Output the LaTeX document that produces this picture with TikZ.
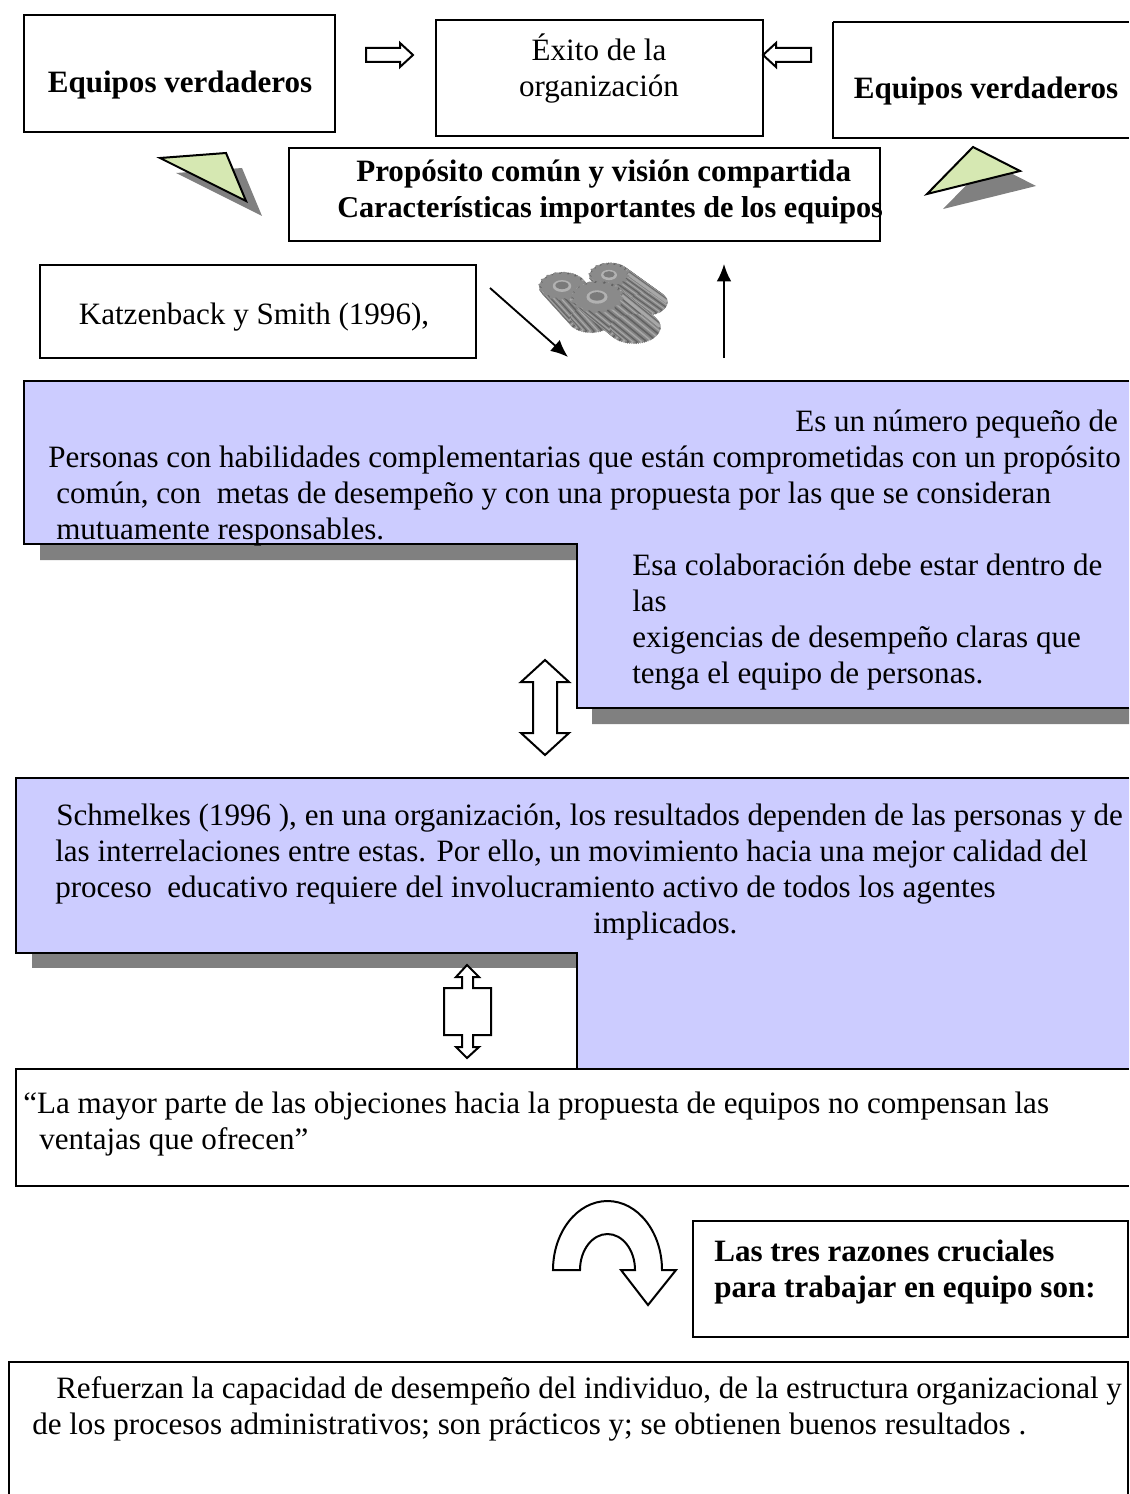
\documentclass[tikz,border=0pt]{standalone}
\usepackage{fontspec}
\setmainfont{Liberation Serif}
\usetikzlibrary{arrows.meta}
\definecolor{lila}{RGB}{204,204,255}
\definecolor{verde}{RGB}{214,232,178}
\definecolor{sombra}{RGB}{128,128,128}
\tikzset{
	caja/.style={draw=black,line width=1.5pt},
	caja lila/.style={caja,fill=lila},
	sombra/.style={fill=sombra,draw=none},
	texto/.style={inner sep=0pt,anchor=base west,align=left,font=\fontsize{23.3}{27}\selectfont},
	centrado/.style={inner sep=0pt,align=center,font=\fontsize{23.3}{27}\selectfont},
	negrita/.style={font=\fontsize{23.3}{27}\selectfont\bfseries},
	bloque/.style={draw=black,line width=1.5pt,fill=white,line join=miter},
	cuña/.style={draw=black,line width=1.5pt,fill=verde},
	flecha/.style={line width=1.4pt,-{Latex[length=13pt,width=11pt]}},
}
% rueda dentada: centro x, centro y, radio, fuga x, fuga y
\newcommand{\rueda}[5]{
	\foreach \ang [evaluate=\ang as \tono using {48+14*sin(18*\ang)}] in {0,5,...,355}
		\draw[line width=2.2pt,color=black!\tono] ({#1+#3*cos(\ang)},{#2+0.6*#3*sin(\ang)}) -- ++(#4,#5);
	\fill[color=black!46] plot[samples=241,domain=0:360] ({#1+(#3+1.8*sin(16*\x))*cos(\x)},{#2+0.6*(#3+1.8*sin(16*\x))*sin(\x)}) -- cycle;
	\fill[color=black!30] (#1,#2) ellipse ({0.42*#3} and {0.27*#3});
	\fill[color=black!52] (#1,#2-0.6) ellipse ({0.3*#3} and {0.17*#3});
}
\begin{document}
\begin{tikzpicture}[x=0.75pt,y=-0.75pt]
	\useasboundingbox (0,0) rectangle (1129,1494);

	% cajas de arriba
	\draw[caja] (24,15) rectangle (335,132);
	\draw[caja] (436,20) rectangle (763,136);
	\draw[caja] (833,22) -- (1129,22) (833,22) -- (833,138) -- (1129,138);
	\draw[caja] (289,148) rectangle (880,241);
	\draw[caja] (40,265) rectangle (476,358);

	\node[centrado,negrita] (equipos1) at (180,85) {Equipos verdaderos};
	\node[centrado] (exito) at (599,68.5) {Éxito de la\\organización};
	\node[centrado,negrita] (equipos2) at (986,91) {Equipos verdaderos};
	\node[texto,negrita] (proposito) at (356,182) {Propósito común y visión compartida};
	\node[texto,font=\fontsize{22.67}{27}\selectfont\bfseries] (caract) at (337,218) {Características importantes de los equipos};
	\node[centrado] (katz) at (254,317) {Katzenback y Smith (1996),};

	% flechas huecas de arriba
	\draw[bloque] (366,48) -- (400,48) -- (400,43) -- (413,55) -- (400,67) -- (400,62) -- (366,62) -- cycle;
	\draw[bloque] (811,48) -- (776,48) -- (776,43) -- (763,55) -- (776,67) -- (776,62) -- (811,62) -- cycle;

	% cuñas verdes
	\fill[sombra] (176,173) -- (242,168) -- (262,216) -- cycle;
	\draw[cuña] (160,158) -- (226,153) -- (246,201) -- cycle;
	\fill[sombra] (943,209) -- (989,162) -- (1036,186) -- cycle;
	\draw[cuña] (927,194) -- (973,147) -- (1020,171) -- cycle;

	% engranajes
	\rueda{609}{275}{19}{39}{28}
	\rueda{562}{286}{22}{30}{33}
	\rueda{597}{297}{25}{38}{31}

	% flechas finas
	\coordinate (diagA) at (490,288);
	\coordinate (diagB) at (568,357);
	\coordinate (vertA) at (724,358);
	\coordinate (vertB) at (724,264);
	\draw[flecha] (diagA) -- (diagB);
	\draw[flecha] (vertA) -- (vertB);

	% primer bloque lila
	\fill[sombra] (40,544) -- (40,560) -- (592,560) -- (592,724) -- (1129,724) -- (1129,708) -- (577,708) -- (577,544) -- cycle;
	\draw[caja lila] (1129,381) -- (24,381) -- (24,544) -- (577,544) -- (577,708) -- (1129,708);
	\node[texto] (numero) at (795,431) {Es un número pequeño de};
	\node[texto] (personas) at (48,467) {Personas con habilidades complementarias que están comprometidas con un propósito};
	\node[texto] (comun) at (56,503) {común, con\ \ metas de desempeño y con una propuesta por las que se consideran};
	\node[texto] (mutua) at (56,539) {mutuamente responsables.};
	\node[texto] (esa) at (632,575) {Esa colaboración debe estar dentro de};
	\node[texto] (las) at (632,611) {las};
	\node[texto] (exig) at (632,647) {exigencias de desempeño claras que};
	\node[texto] (tenga) at (632,683) {tenga el equipo de personas.};

	% flecha doble
	\draw[bloque] (545,660) -- (569,682) -- (557,682) -- (557,733) -- (569,733) -- (545,755) -- (521,733) -- (533,733) -- (533,682) -- (521,682) -- cycle;

	% segundo bloque lila
	\fill[sombra] (32,953) -- (32,968) -- (577,968) -- (577,953) -- cycle;
	\draw[caja lila] (1129,778) -- (16,778) -- (16,953) -- (577,953) -- (577,1069) -- (1129,1069);
	\node[texto] (schm) at (56,825) {Schmelkes (1996 ), en una organización, los resultados dependen de las personas y de};
	\node[texto] (inter) at (55,861) {las interrelaciones entre estas. Por ello, un movimiento hacia una mejor calidad del};
	\node[texto] (proceso) at (55,897) {proceso\ \ educativo requiere del involucramiento activo de todos los agentes};
	\node[texto] (impl) at (593,933) {implicados.};

	% flecha doble corta
	\draw[bloque] (467,965) -- (479,977) -- (473,977) -- (473,988) -- (491,988) -- (491,1035) -- (473,1035) -- (473,1047) -- (479,1047) -- (467,1058) -- (456,1047) -- (462,1047) -- (462,1035) -- (444,1035) -- (444,988) -- (462,988) -- (462,977) -- (456,977) -- cycle;

	% caja de objeciones
	\draw[caja] (1129,1069) -- (16,1069) -- (16,1186) -- (1129,1186);
	\node[texto] (mayor) at (23,1113) {“La mayor parte de las objeciones hacia la propuesta de equipos no compensan las};
	\node[texto] (ventajas) at (39,1149) {ventajas que ofrecen”};

	% flecha curva
	\draw[bloque] (553,1270) arc[start angle=180,end angle=360,x radius=54.5,y radius=69] -- (676,1270) -- (648,1305) -- (621,1270) -- (635,1270) arc[start angle=0,end angle=-180,x radius=27.5,y radius=36] -- cycle;

	\draw[caja] (693,1221) rectangle (1128,1337);
	\node[texto,negrita] (tres) at (714,1261) {Las tres razones cruciales};
	\node[texto,negrita] (para) at (714,1297) {para trabajar en equipo son:};

	% caja final
	\draw[caja] (9,1494) -- (9,1362) -- (1128,1362) -- (1128,1494);
	\node[texto] (refuerzan) at (56,1398) {Refuerzan la capacidad de desempeño del individuo, de la estructura organizacional y};
	\node[texto] (procesos) at (32,1434) {de los procesos administrativos; son prácticos y; se obtienen buenos resultados .};
\end{tikzpicture}
\end{document}
